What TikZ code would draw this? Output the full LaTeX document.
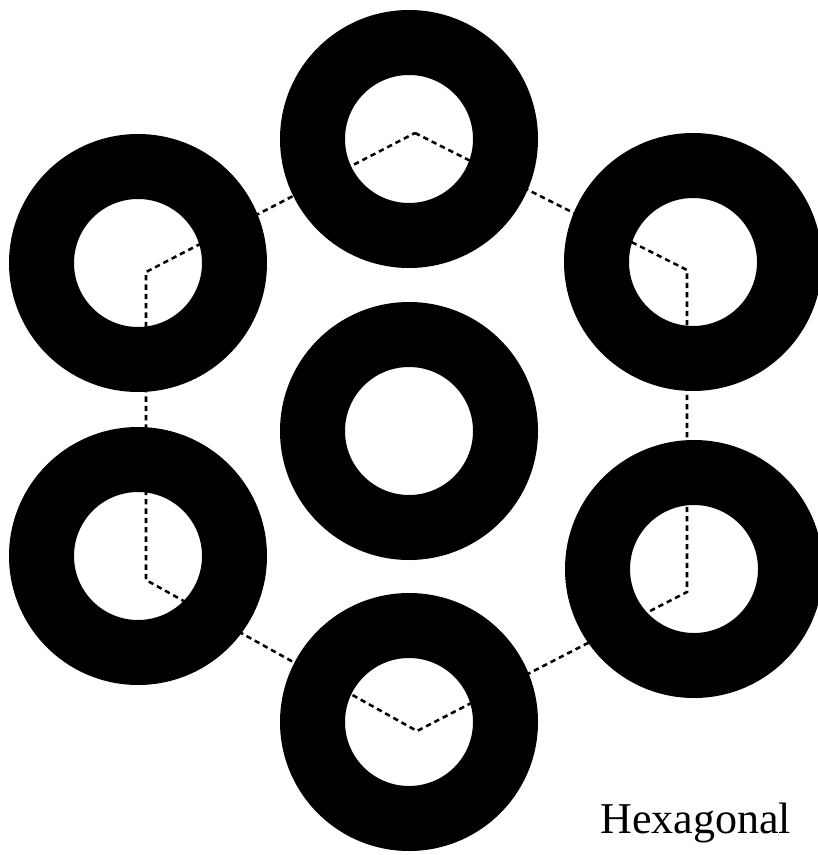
\documentclass[tikz,border=0pt]{standalone}
\usepackage{fontspec}
\setmainfont{Liberation Serif}

\begin{document}
\begin{tikzpicture}[x=0.75pt, y=-0.75pt,
	ring/.style={fill=black, even odd rule},
	hexline/.style={line width=1.9pt, dash pattern=on 4pt off 3pt}]
	\useasboundingbox (0,0) rectangle (817,855);
	% ring centres
	\coordinate (ctop) at (409,139);
	\coordinate (cul) at (138,263);
	\coordinate (cur) at (693,262);
	\coordinate (cmid) at (409,431);
	\coordinate (cll) at (138,556);
	\coordinate (clr) at (694,569);
	\coordinate (cbot) at (409,722);
	\foreach \c in {ctop,cul,cur,cmid,cll,clr,cbot} {
		\fill[ring] (\c) circle (96.75pt) circle (48pt);
	}
	% dashed hexagon
	\coordinate (htop) at (415,133);
	\coordinate (hur) at (687,270);
	\coordinate (hlr) at (687,592);
	\coordinate (hbot) at (417,731);
	\coordinate (hll) at (146,580);
	\coordinate (hul) at (146,272);
	\draw[hexline] (htop) -- (hur) -- (hlr) -- (hbot) -- (hll) -- (hul) -- cycle;
	\node[anchor=base west, inner sep=0pt, font=\fontsize{33}{36}\selectfont] (label) at (600,833) {Hexagonal};
\end{tikzpicture}
\end{document}
